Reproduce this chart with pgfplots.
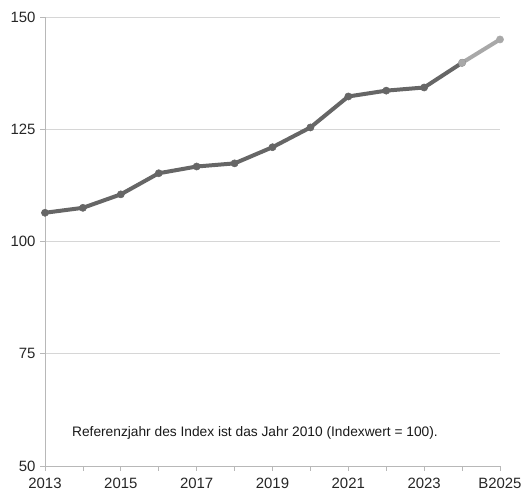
\documentclass[border=0pt]{standalone}
\usepackage{fontspec}
\setmainfont{Liberation Sans}
\usepackage{pgfplots}
\pgfplotsset{compat=1.18}
\definecolor{linegray}{HTML}{666666}
\definecolor{lightline}{HTML}{A8A8A8}
\definecolor{gridgray}{HTML}{D6D6D6}
\definecolor{axisgray}{HTML}{B8B8B8}
\begin{document}
\begin{tikzpicture}
\begin{axis}[
  scale only axis, width=455bp, height=449bp,
  xmin=2013, xmax=2025, ymin=50, ymax=150,
  axis x line*=bottom, axis y line*=left,
  axis line style={axisgray, line width=0.8pt, -},
  xtick={2013,...,2025},
  xticklabels={2013,,2015,,2017,,2019,,2021,,2023,,B2025},
  ytick={50,75,100,125,150},
  ymajorgrids, grid style={gridgray, line width=0.8pt},
  tick style={axisgray, line width=0.8pt},
  tick align=outside,
  major tick length=5bp,
  xticklabel style={yshift=-4bp},
  yticklabel style={xshift=-1bp},
  ticklabel style={font=\fontsize{15}{15}\selectfont, text=black!85},
  /pgf/number format/assume math mode=true,
]
\addplot[linegray, line width=4bp, mark=*, mark size=3.6bp, mark options={fill=linegray, draw=linegray, line width=0.5bp}]
coordinates {
(2013,106.4) (2014,107.5) (2015,110.5) (2016,115.2) (2017,116.7)
(2018,117.4) (2019,121.0) (2020,125.4) (2021,132.3) (2022,133.6)
(2023,134.3) (2024,139.8)
};
\addplot[lightline, line width=4bp, mark=*, mark size=3.6bp, mark options={fill=lightline, draw=lightline, line width=0.5bp}]
coordinates {(2024,139.8) (2025,145.0)};
\coordinate (sw) at (rel axis cs:0,0);
\coordinate (ne) at (rel axis cs:1,1);
\coordinate (txt) at (axis cs:2013.71,57.4);
\end{axis}
\node[anchor=west, font=\fontsize{13.8}{13.8}\selectfont, inner sep=0pt, text=black!90] at (txt)
  {Referenzjahr des Index ist das Jahr 2010 (Indexwert = 100).};
\pgfresetboundingbox
\path ([shift={(-45bp,-32bp)}]sw) rectangle ([shift={(25bp,17bp)}]ne);
\end{tikzpicture}
\end{document}
